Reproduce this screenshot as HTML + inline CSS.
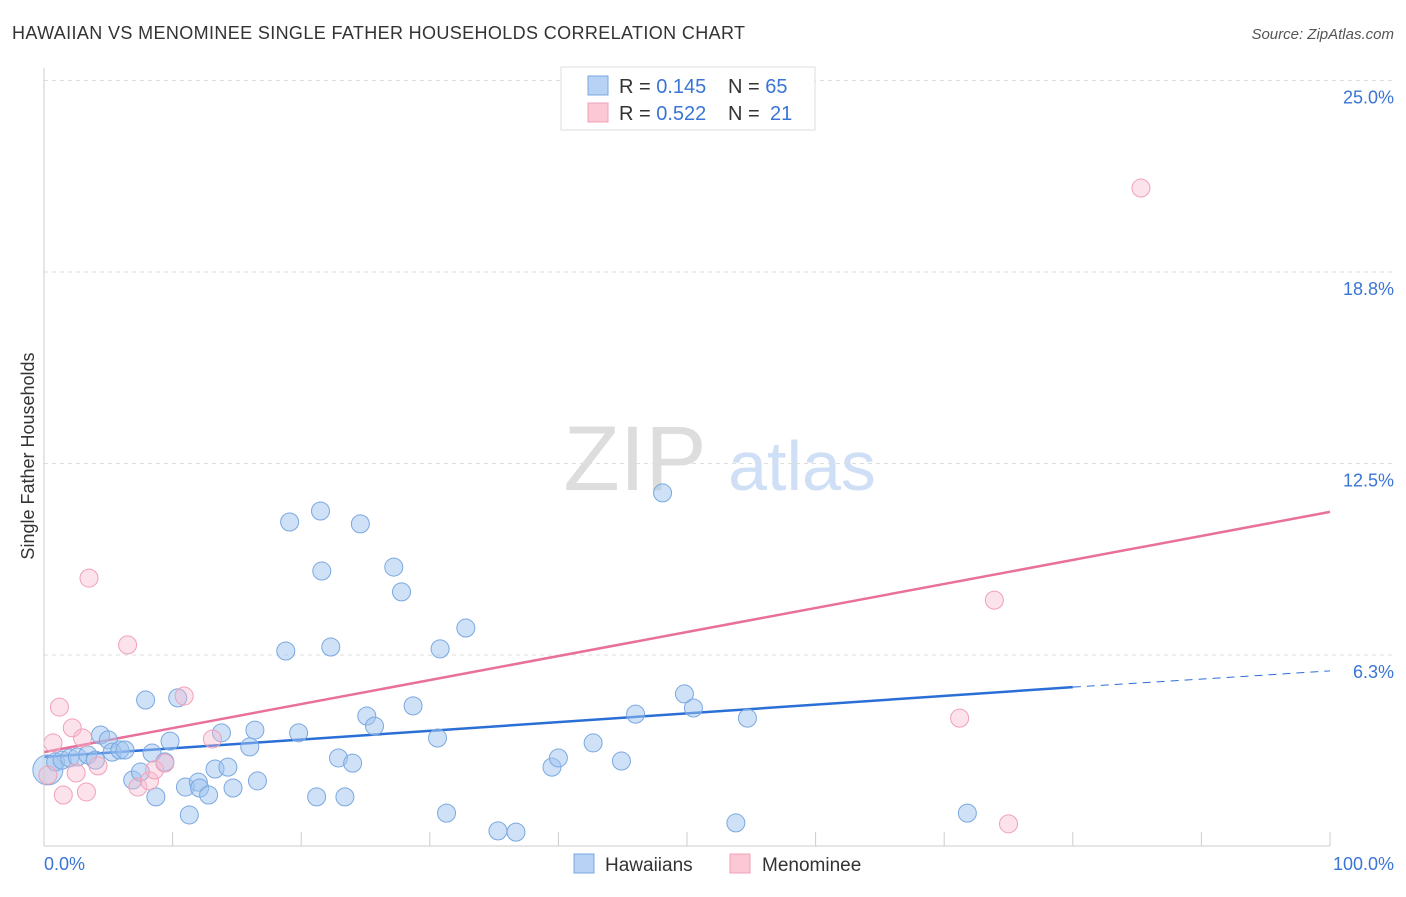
<!DOCTYPE html>
<html><head><meta charset="utf-8"><style>
body{margin:0;background:#fff;font-family:"Liberation Sans",sans-serif;}
svg text{font-family:"Liberation Sans",sans-serif;}
</style></head><body>
<svg id="c" width="1406" height="892" xmlns="http://www.w3.org/2000/svg">
<text x="12" y="39" font-size="18" fill="#333" textLength="733">HAWAIIAN VS MENOMINEE SINGLE FATHER HOUSEHOLDS CORRELATION CHART</text>
<text x="1394" y="39" font-size="15" fill="#555" font-style="italic" text-anchor="end">Source: ZipAtlas.com</text>
<text x="34" y="456" font-size="18" fill="#333" text-anchor="middle" transform="rotate(-90 34 456)">Single Father Households</text>
<g>
<text x="635" y="490" font-size="92" fill="#ddd" font-family="Liberation Serif" text-anchor="middle">ZIP</text>
<text x="802" y="490" font-size="70" fill="#cfdff5" text-anchor="middle">atlas</text>
</g>
<g id="grid"></g><g id="lines"></g><g id="pts"></g>
<line x1="44" y1="68" x2="44" y2="846" stroke="#ccc"/>
<line x1="44" y1="846" x2="1330" y2="846" stroke="#ccc"/>
<text x="44" y="870" font-size="18" fill="#3a75d6">0.0%</text>
<text x="1394" y="870" font-size="18" fill="#3a75d6" text-anchor="end">100.0%</text>
<g>
<rect x="561" y="67" width="254" height="63" fill="#fff" stroke="#ddd"/>
<rect x="588" y="76" width="20" height="19" fill="#b8d2f5" stroke="#7aa8e0"/>
<rect x="588" y="103" width="20" height="19" fill="#fcc8d6" stroke="#f0a0b8"/>
<text x="619" y="93" font-size="20" fill="#333">R = <tspan fill="#3a75d6">0.145</tspan><tspan x="728">N = </tspan><tspan fill="#3a75d6">65</tspan></text>
<text x="619" y="120" font-size="20" fill="#333">R = <tspan fill="#3a75d6">0.522</tspan><tspan x="728">N = </tspan><tspan fill="#3a75d6" x="770">21</tspan></text>
</g>
<g>
<rect x="574" y="854" width="20" height="19" fill="#b8d2f5" stroke="#7aa8e0"/>
<text x="605" y="871" font-size="19" fill="#333">Hawaiians</text>
<rect x="730" y="854" width="20" height="19" fill="#fcc8d6" stroke="#f0a0b8"/>
<text x="762" y="871" font-size="19" fill="#333">Menominee</text>
</g>
</svg>
<script>
const yTicks=[6.25,12.5,18.75,25];
const yTickLabels=["6.3%","12.5%","18.8%","25.0%"];
const xTicks=[0,10,20,30,40,50,60,70,80,90,100];
const blueX=[0.3,0.9,1.4,2.0,2.6,3.4,4.0,4.4,5.0,5.3,5.9,6.3,6.9,7.5,7.9,8.4,8.7,9.4,9.8,10.4,11.0,11.3,12.0,12.1,12.8,13.3,13.8,14.3,14.7,16.0,16.4,16.6,18.8,19.1,19.8,21.2,21.5,21.6,22.3,22.9,23.4,24.0,24.6,25.1,25.7,27.2,27.8,28.7,30.6,30.8,31.3,32.8,35.3,36.7,39.5,40.0,42.7,44.9,46.0,48.1,49.8,50.5,53.8,54.7,71.8];
const blueY=[2.5,2.76,2.82,2.89,2.92,2.99,2.82,3.64,3.48,3.08,3.15,3.15,2.17,2.43,4.78,3.05,1.62,2.76,3.44,4.85,1.94,1.03,2.1,1.91,1.68,2.53,3.71,2.59,1.91,3.25,3.8,2.14,6.38,10.59,3.71,1.62,10.95,8.99,6.51,2.89,1.62,2.72,10.53,4.26,3.93,9.12,8.31,4.59,3.54,6.45,1.09,7.13,0.51,0.47,2.59,2.89,3.38,2.79,4.32,11.54,4.98,4.52,0.77,4.19,1.09];
const pinkX=[0.3,0.7,1.2,1.5,2.2,2.5,3.0,3.3,3.5,4.2,6.5,7.3,8.2,8.6,9.4,10.9,13.1,71.2,73.9,75.0,85.3];
const pinkY=[2.33,3.38,4.55,1.68,3.87,2.4,3.54,1.78,8.76,2.63,6.58,1.94,2.14,2.5,2.72,4.91,3.51,4.19,8.04,0.74,21.49];
const blueTrend=[[0,2.92],[80,5.2],[100,5.73]];
const pinkTrend=[[0,3.08],[100,10.92]];
const X=v=>44+v*12.86, Y=v=>846.5-v*30.64;
const NS="http://www.w3.org/2000/svg";
function mk(t,a,p){const e=document.createElementNS(NS,t);for(const k in a)e.setAttribute(k,a[k]);document.getElementById(p).appendChild(e);return e;}
yTicks.forEach((t,i)=>{
 const g=mk('line',{x1:44,x2:1394,y1:Y(t),y2:Y(t),stroke:'#ddd','stroke-dasharray':'4,4'},'grid');
 
 
 const tx=mk('text',{x:1394,y:Y(t)+23,'font-size':18,fill:'#3a75d6','text-anchor':'end'},'grid');
 tx.textContent=yTickLabels[i];
 
 
});
xTicks.forEach(t=>{
 const l=mk('line',{x1:X(t),x2:X(t),y1:846,y2:832,stroke:'#ccc'},'grid');
 
 
});
let l=mk('line',{x1:X(blueTrend[0][0]),y1:Y(blueTrend[0][1]),x2:X(blueTrend[1][0]),y2:Y(blueTrend[1][1]),stroke:'#2a6fd6','stroke-width':2.5},'lines');


l=mk('line',{x1:X(blueTrend[1][0]),y1:Y(blueTrend[1][1]),x2:X(blueTrend[2][0]),y2:Y(blueTrend[2][1]),stroke:'#2a6fd6','stroke-width':1,'stroke-dasharray':'8,6'},'lines');


l=mk('line',{x1:X(pinkTrend[0][0]),y1:Y(pinkTrend[0][1]),x2:X(pinkTrend[1][0]),y2:Y(pinkTrend[1][1]),stroke:'#e8709a','stroke-width':2.5},'lines');


blueX.forEach((v,i)=>{
 const c=mk('circle',{cx:X(v),cy:Y(blueY[i]),r:i==0?15:9,fill:'rgba(160,196,240,0.5)',stroke:'#7aa8e0','stroke-width':1},'pts');
 
 
});
pinkX.forEach((v,i)=>{
 const c=mk('circle',{cx:X(v),cy:Y(pinkY[i]),r:9,fill:'rgba(248,185,205,0.4)',stroke:'#f0a0b8','stroke-width':1},'pts');
 
 
});
</script>
</body></html>
